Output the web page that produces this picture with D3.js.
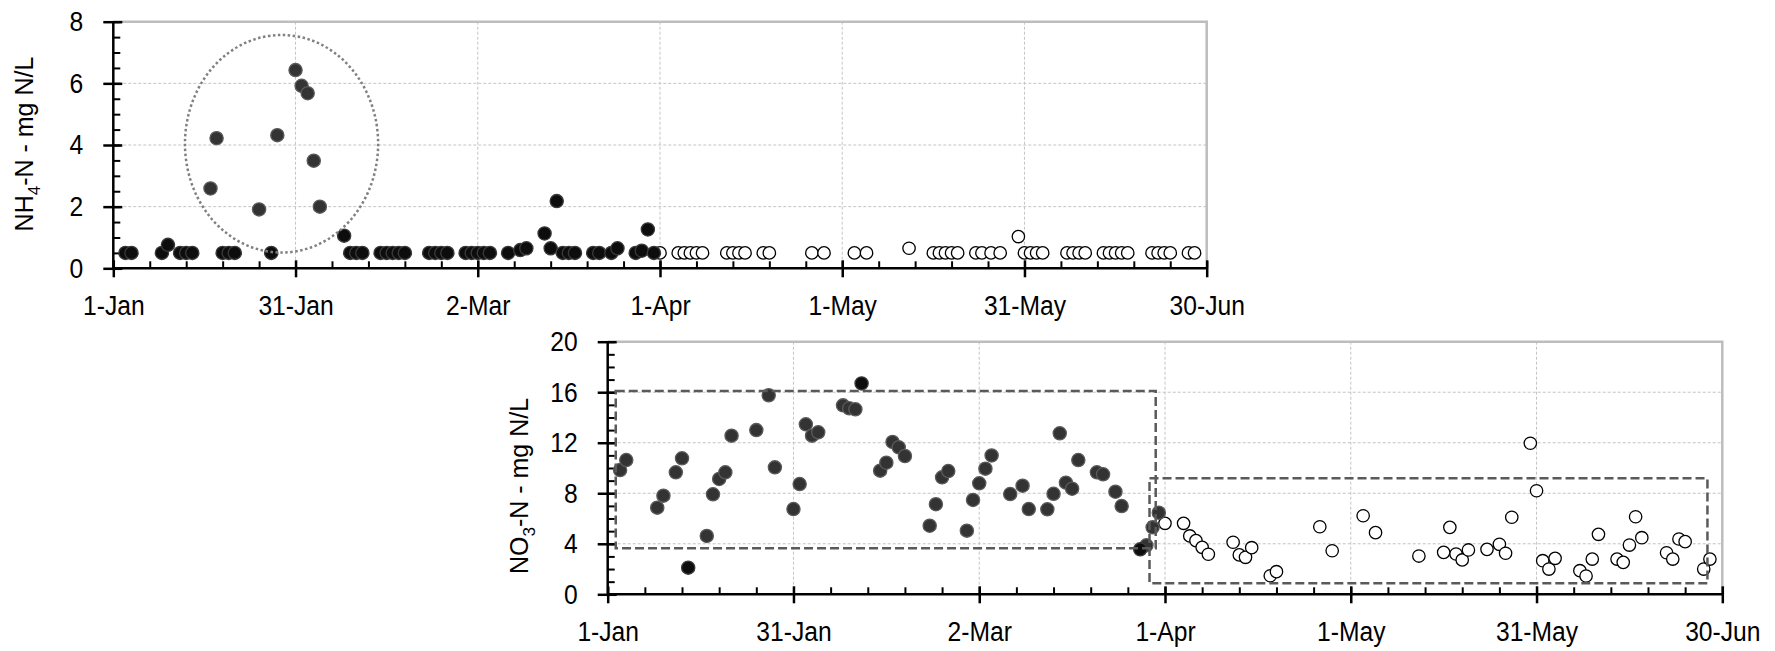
<!DOCTYPE html>
<html>
<head>
<meta charset="utf-8">
<script src="https://cdn.jsdelivr.net/npm/d3@7"></script>
<style>
  body { margin: 0; background: #fff; }
  svg { display: block; font-family: "Liberation Sans", Arial, sans-serif; }
</style>
</head>
<body>
<svg id="chart"></svg>
<script>
// days counted from 1-Jan
var tickDays = [0, 30, 60, 90, 120, 150, 180];
var tickLabels = ["1-Jan", "31-Jan", "2-Mar", "1-Apr", "1-May", "31-May", "30-Jun"];

// NH4-N series [day, mg N/L]
var nh4Black = [[2,0.5],[3,0.5],[8,0.5],[9,0.76],[11,0.5],[12,0.5],[13,0.5],[18,0.5],[19,0.5],[20,0.5],[26,0.5],
  [38,1.06],[39,0.5],[40,0.5],[41,0.5],[44,0.5],[45,0.5],[46,0.5],[47,0.5],[48,0.5],[52,0.5],[53,0.5],[54,0.5],[55,0.5],
  [58,0.5],[59,0.5],[60,0.5],[61,0.5],[62,0.5],[65,0.5],[67,0.59],[68,0.65],[71,1.13],[72,0.65],[73,2.18],[74,0.5],
  [75,0.5],[76,0.5],[79,0.5],[80,0.5],[82,0.5],[83,0.65],[86,0.5],[87,0.57],[88,1.26],[89,0.5]];
var nh4Gray = [[16,2.59],[17,4.22],[24,1.91],[27,4.32],[30,6.43],[31,5.92],[32,5.68],[33,3.49],[34,2.0]];
var nh4Open = [[90,0.5],[93,0.5],[94,0.5],[95,0.5],[96,0.5],[97,0.5],[101,0.5],[102,0.5],[103,0.5],[104,0.5],
  [107,0.5],[108,0.5],[115,0.5],[117,0.5],[122,0.5],[124,0.5],[131,0.65],[135,0.5],[136,0.5],[137,0.5],[138,0.5],
  [139,0.5],[142,0.5],[143,0.5],[144.5,0.5],[146,0.5],[149,1.03],[150,0.5],[151,0.5],[152,0.5],[153,0.5],[157,0.5],
  [158,0.5],[159,0.5],[160,0.5],[163,0.5],[164,0.5],[165,0.5],[166,0.5],[167,0.5],[171,0.5],[172,0.5],[173,0.5],
  [174,0.5],[177,0.5],[178,0.5]];

// NO3-N series [day, mg N/L]
var no3Black = [[13,2.11],[41,16.7],[86,3.56]];
var no3Gray = [[2,9.84],[3,10.63],[8,6.86],[9,7.81],[11,9.66],[12,10.77],[16,4.62],[17,7.92],[18,9.13],[19,9.66],
  [20,12.56],[24,13.0],[26,15.76],[27,10.05],[30,6.75],[31,8.73],[32,13.46],[33,12.56],[34,12.83],[38,14.96],
  [39,14.73],[40,14.65],[44,9.79],[45,10.42],[46,12.06],[47,11.64],[48,10.95],[52,5.43],[53,7.13],[54,9.26],
  [55,9.76],[58,5.04],[59,7.47],[60,8.79],[61,9.95],[62,10.99],[65,7.94],[67,8.6],[68,6.75],[71,6.73],[72,7.96],
  [73,12.75],[74,8.84],[75,8.36],[76,10.63],[79,9.66],[80,9.5],[82,8.12],[83,6.99],[87,3.88],[88,5.3],[89,6.46]];
var no3Open = [[90,5.62],[93,5.62],[94,4.62],[95,4.25],[96,3.72],[97,3.17],[101,4.12],[102,3.12],[103,2.93],
  [104,3.69],[107,1.47],[108,1.79],[115,5.35],[117,3.45],[122,6.22],[124,4.88],[131,3.03],[135,3.32],[136,5.3],
  [137,3.19],[138,2.72],[139,3.51],[142,3.56],[144,3.96],[145,3.25],[146,6.1],[149,11.96],[150,8.2],[151,2.66],
  [152,2.0],[153,2.85],[157,1.87],[158,1.45],[159,2.79],[160,4.75],[163,2.79],[164,2.53],[165,3.9],[166,6.14],
  [167,4.48],[171,3.29],[172,2.79],[173,4.38],[174,4.17],[177,2.0],[178,2.79]];

// annotations in data units
var nh4Ellipse = { day: 27.7, val: 4.04, rDays: 15.9, rVal: 3.53 };
var no3Boxes = [
  { d0: 1.3, d1: 88.5, v0: 3.64, v1: 16.1 },
  { d0: 87.5, d1: 177.6, v0: 0.87, v1: 9.18 }
];

var svg = d3.select("#chart").attr("width", 1775).attr("height", 651);

// tick labels: a narrow face, like the original
var labelSize = "28px", narrow = 0.88;

function drawPanel(opt) {
  var x = d3.scaleLinear().domain([0, 180]).range([opt.left, opt.right]);
  var y = d3.scaleLinear().domain([0, opt.yMax]).range([opt.bottom, opt.top]);
  var g = svg.append("g");

  //Griglia
  var yMajor = d3.range(0, opt.yMax + 0.001, opt.yStep);
  g.append("g").selectAll("line")
    .data(yMajor.slice(1, -1))
    .enter().append("line")
    .attr("x1", opt.left).attr("x2", opt.right)
    .attr("y1", d => y(d)).attr("y2", d => y(d))
    .attr("stroke", "#c4c4c4").attr("stroke-width", 1).attr("stroke-dasharray", "3,2");
  g.append("g").selectAll("line")
    .data(tickDays.slice(1, -1))
    .enter().append("line")
    .attr("x1", d => x(d)).attr("x2", d => x(d))
    .attr("y1", opt.top).attr("y2", opt.bottom)
    .attr("stroke", "#c4c4c4").attr("stroke-width", 1).attr("stroke-dasharray", "3,2");

  //Bordo
  g.append("path")
    .attr("d", `M${opt.left},${opt.top}H${opt.right}V${opt.bottom}`)
    .attr("fill", "none").attr("stroke", "#bdbdbd").attr("stroke-width", 2.5);

  //Asse X
  g.append("g")
    .attr("transform", `translate(0,${opt.bottom})`)
    .call(d3.axisBottom(x).tickValues(d3.range(0, 181, 6)).tickSize(-7).tickFormat(""))
    .call(a => a.select(".domain").remove())
    .selectAll("line").attr("stroke-width", 2);
  var xa = g.append("g")
    .attr("transform", `translate(0,${opt.bottom})`)
    .call(d3.axisBottom(x).tickValues(tickDays).tickSize(9).tickPadding(18)
      .tickFormat((d, i) => tickLabels[i]));
  xa.selectAll(".tick line").attr("y1", -8).attr("stroke-width", 2.5);
  xa.select(".domain").attr("stroke-width", 2.5).attr("d", `M${opt.left},0H${opt.right}`);
  xa.selectAll("text")
    .style("font-size", labelSize).attr("fill", "#000")
    .attr("transform", `scale(${narrow},1)`);

  //Asse Y
  g.append("g")
    .attr("transform", `translate(${opt.left},0)`)
    .call(d3.axisLeft(y).tickValues(d3.range(0, opt.yMax + 0.001, opt.yMinor)).tickSize(-7).tickFormat(""))
    .call(a => a.select(".domain").remove())
    .selectAll("line").attr("stroke-width", 2);
  var ya = g.append("g")
    .attr("transform", `translate(${opt.left},0)`)
    .call(d3.axisLeft(y).tickValues(yMajor).tickSize(10).tickPadding(20));
  ya.selectAll(".tick line").attr("x1", 9).attr("stroke-width", 2.5);
  ya.select(".domain").attr("stroke-width", 2.5).attr("d", `M0,${opt.bottom}V${opt.top}`);
  ya.selectAll("text")
    .style("font-size", labelSize).attr("fill", "#000")
    .attr("x", -30 / narrow)
    .attr("transform", `scale(${narrow},1)`);

  //Titolo asse Y con pedice
  var t = g.append("text")
    .attr("transform", `translate(${opt.titleX},${opt.titleY}) rotate(-90)`)
    .attr("text-anchor", "middle")
    .style("font-size", "25px");
  t.append("tspan").text(opt.title[0]);
  t.append("tspan").attr("dy", 7).style("font-size", "17px").text(opt.title[1]);
  t.append("tspan").attr("dy", -7).text(opt.title[2]);

  //Punti
  function dots(data, fill, stroke, r) {
    g.append("g").selectAll("circle")
      .data(data)
      .enter().append("circle")
      .attr("cx", d => x(d[0]))
      .attr("cy", d => y(d[1]))
      .attr("r", r)
      .attr("fill", fill)
      .attr("stroke", stroke)
      .attr("stroke-width", 1.3);
  }
  dots(opt.open, "#fff", "#000", 6.2);
  dots(opt.gray, "#333", "#5a5a5a", 6.6);
  dots(opt.black, "#0d0d0d", "#3a3a3a", 6.6);

  return { g: g, x: x, y: y };
}

var top1 = drawPanel({
  left: 113.3, right: 1206.7, top: 21.7, bottom: 268.3, yMax: 8, yStep: 2, yMinor: 0.5,
  titleX: 33, titleY: 144, title: ["NH", "4", "-N - mg N/L"],
  black: nh4Black, gray: nh4Gray, open: nh4Open
});

var bot = drawPanel({
  left: 607.7, right: 1722.3, top: 341.7, bottom: 594.3, yMax: 20, yStep: 4, yMinor: 1,
  titleX: 528, titleY: 486, title: ["NO", "3", "-N - mg N/L"],
  black: no3Black, gray: no3Gray, open: no3Open
});

//Ellisse tratteggiata
top1.g.append("ellipse")
  .attr("cx", top1.x(nh4Ellipse.day))
  .attr("cy", top1.y(nh4Ellipse.val))
  .attr("rx", top1.x(nh4Ellipse.rDays) - top1.x(0))
  .attr("ry", top1.y(0) - top1.y(nh4Ellipse.rVal))
  .attr("fill", "none")
  .attr("stroke", "#808080")
  .attr("stroke-width", 2.5)
  .attr("stroke-dasharray", "2.5,2.5");

//Riquadri tratteggiati
bot.g.append("g").selectAll("rect")
  .data(no3Boxes)
  .enter().append("rect")
  .attr("x", d => bot.x(d.d0))
  .attr("y", d => bot.y(d.v1))
  .attr("width", d => bot.x(d.d1) - bot.x(d.d0))
  .attr("height", d => bot.y(d.v0) - bot.y(d.v1))
  .attr("fill", "none")
  .attr("stroke", "#5a5a5a")
  .attr("stroke-width", 2.5)
  .attr("stroke-dasharray", "9,4");
</script>
</body>
</html>
